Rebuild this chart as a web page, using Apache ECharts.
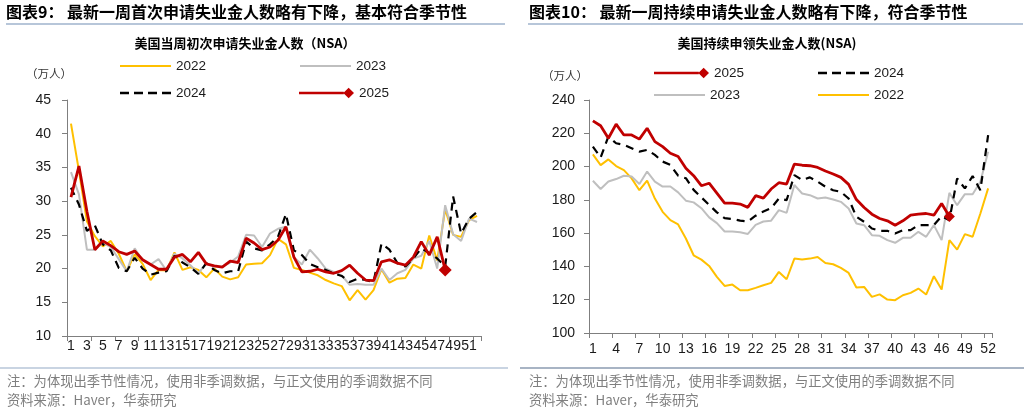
<!DOCTYPE html>
<html>
<head>
<meta charset="utf-8">
<script src="https://cdn.jsdelivr.net/npm/echarts@6.0.0/dist/echarts.min.js"></script>
<style>
  body { margin: 0; background: #fff; }
  #main { width: 1029px; height: 413px; }
</style>
</head>
<body>
<div id="main"></div>
<script>
// week labels 1..52
var weeks = ['1','2','3','4','5','6','7','8','9','10','11','12','13','14','15','16','17','18','19','20',
  '21','22','23','24','25','26','27','28','29','30','31','32','33','34','35','36','37','38','39','40',
  '41','42','43','44','45','46','47','48','49','50','51','52'];

// 初次申请 (万人)
var initial2022 = [41.5, 34.5, 27.0, 24.8, 23.3, 24.1, 22.2, 19.6, 22.1, 20.7, 18.3, 19.8, 19.7, 22.4, 19.8, 20.2, 19.8, 18.7, 20.0, 18.8,
  18.4, 18.7, 20.6, 20.7, 20.8, 22.0, 24.4, 23.6, 20.1, 19.8, 19.4, 19.0, 18.3, 17.8, 17.4, 15.3, 16.8, 15.4, 16.8, 19.9,
  17.9, 18.5, 18.6, 20.6, 20.0, 24.9, 21.2, 28.8, 25.0, 24.7, 27.2, 27.8];
var initial2023 = [34.3, 31.0, 22.8, 22.8, 23.8, 23.2, 21.4, 19.6, 23.0, 21.2, 20.6, 21.4, 19.7, 22.2, 21.5, 20.5, 19.3, 20.8, 20.3, 20.3,
  20.9, 21.8, 25.0, 24.9, 23.2, 25.2, 25.9, 26.2, 21.7, 20.6, 22.8, 21.5, 20.0, 19.5, 19.0, 17.6, 17.7, 17.6, 17.6, 20.0,
  18.3, 19.3, 19.8, 21.5, 21.9, 24.1, 20.0, 29.4, 25.1, 24.1, 27.4, 26.9];
var initial2024 = [32.0, 29.5, 25.6, 26.4, 23.6, 22.7, 20.1, 19.6, 21.6, 20.0, 19.1, 19.4, 19.6, 21.9, 20.9, 20.2, 19.2, 20.8, 19.8, 19.3,
  19.6, 19.6, 24.0, 23.0, 22.7, 23.6, 24.7, 28.1, 22.7, 22.0, 20.7, 20.2, 19.8, 19.3, 18.9, 18.0, 18.5, 18.3, 18.0, 23.7,
  22.8, 20.8, 20.3, 21.5, 23.0, 22.3, 21.5, 20.3, 30.7, 25.2, 27.4, 28.4];
var initial2025 = [30.6, 35.2, 28.5, 22.8, 24.1, 23.4, 22.5, 22.1, 22.6, 21.3, 20.6, 19.9, 19.9, 21.7, 22.1, 21.0, 22.4, 20.7, 20.4, 20.2,
  21.1, 20.9, 24.5, 23.8, 22.8, 23.2, 24.2, 26.2, 21.7, 19.5, 19.6, 19.9, 19.5, 19.3, 19.7, 20.5, 19.3, 18.3, 18.2, 21.0,
  21.3, 20.8, 20.5, 21.7, 24.0, 22.0, 24.7, 19.8];

// 持续申领 (万人)
var cont2022 = [207.3, 200.9, 204.3, 200.3, 197.9, 192.9, 185.8, 191.5, 180.8, 172.8, 167.8, 165.2, 156.8, 146.7, 144.1, 140.3, 133.7, 128.3, 129.1, 125.7,
  125.7, 127.1, 128.7, 130.1, 136.7, 132.3, 144.7, 144.1, 144.7, 145.7, 142.1, 141.3, 139.1, 136.1, 127.3, 127.7, 121.7, 123.2, 120.1, 119.7,
  122.7, 124.1, 126.7, 123.1, 134.1, 126.1, 155.8, 150.1, 159.4, 157.8, 171.8, 186.9];
var cont2023 = [191.5, 186.5, 191, 192.5, 194.5, 194, 189.5, 197, 191, 188, 188, 184.5, 179.5, 178.5, 175, 169.5, 166, 161, 161, 160.5,
  159.5, 165, 167, 167.5, 173.8, 172.2, 188.9, 183.8, 182.8, 180.8, 181.4, 180.2, 178.8, 174.8, 165.8, 164.8, 158.8, 158.4, 155.8, 154.2,
  157.2, 157.2, 160.8, 157.8, 164.8, 155.8, 184.2, 176.8, 183.4, 183.4, 190.9, 208.9];
var cont2024 = [212, 205.5, 218, 214, 213, 211, 209, 210, 207, 203, 201, 194.5, 193, 186, 181.5, 177, 172.5, 169, 168.5, 167.5,
  167, 170.5, 173, 175, 180.8, 179.8, 194.9, 191.9, 193.5, 190.9, 187.9, 185.8, 184.8, 180.8, 169.8, 166.8, 162.8, 161.4, 161.4, 159.8,
  161.8, 161.8, 164.8, 164.8, 164.8, 170.2, 167.8, 192.9, 186.9, 194.3, 185.8, 218.9];
var cont2025 = [227.5, 224.5, 217, 225.5, 219, 219, 216.5, 223, 215, 212, 208, 206, 199, 194.5, 188.5, 190, 184, 178, 178, 177.5,
  175.5, 182.5, 181, 186.5, 190.3, 189.5, 201.5, 200.8, 200.5, 199.5, 197.3, 195.5, 193.5, 189.3, 180.2, 175.4, 171.4, 168.8, 167.4, 164.8,
  167.4, 170.8, 171.4, 171.8, 170.8, 177.8, 170.0];

var C2022 = '#FFC000', C2023 = '#BFBFBF', C2024 = '#000000', C2025 = '#C00000';
var NUM = 'Liberation Sans, Arial, sans-serif';
var CJK = '"Noto Sans CJK SC", sans-serif';

// legend icons drawn like the original: plain bar, dashes, bar ending in a diamond
var solidIcon = 'path://M0,0 L51,0 L51,2.2 L0,2.2 Z';
var dashIcon = 'path://M0,0 L9,0 L9,2.4 L0,2.4 Z M14,0 L23,0 L23,2.4 L14,2.4 Z M28,0 L37,0 L37,2.4 L28,2.4 Z M42,0 L51,0 L51,2.4 L42,2.4 Z';
var diamondIcon = 'path://M0,4.6 L46,4.6 L46,7.4 L0,7.4 Z M51,0.5 L56.5,6 L51,11.5 L45.5,6 Z';

function withLastDiamond(values, size) {
  return values.map(function (v, i) {
    return i === values.length - 1 ? { value: v, symbol: 'diamond', symbolSize: size } : v;
  });
}

function mkSeries(name, values, color, width, dashed, idx) {
  return {
    type: 'line', name: name, xAxisIndex: idx, yAxisIndex: idx,
    data: values, symbol: 'none', showAllSymbol: true, silent: true,
    lineStyle: { color: color, width: width, type: dashed ? [8, 6] : 'solid' },
    itemStyle: { color: color }
  };
}

function mkLegend(name, left, top, icon, w, h) {
  return {
    data: [{ name: name, icon: icon }],
    left: left, top: top, padding: 0, itemWidth: w || 51, itemHeight: h || 10, itemGap: 0,
    selectedMode: false,
    itemStyle: { borderWidth: 0 },
    textStyle: { fontFamily: NUM, fontSize: 13.5, color: '#1a1a1a' }
  };
}

function xAxisCfg(idx, labelInterval, margin) {
  return {
    type: 'category', gridIndex: idx, data: weeks, boundaryGap: true,
    axisLine: { lineStyle: { color: '#7F7F7F', width: 1 } },
    axisTick: { show: true, interval: 2, length: 5, lineStyle: { color: '#7F7F7F' } },
    axisLabel: { interval: labelInterval, margin: margin, color: '#1a1a1a', fontFamily: NUM, fontSize: 14, hideOverlap: false },
    splitLine: { show: false }
  };
}

function yAxisCfg(idx, min, max, interval, margin) {
  return {
    type: 'value', gridIndex: idx, min: min, max: max, interval: interval,
    axisLine: { show: true, lineStyle: { color: '#7F7F7F', width: 1 } },
    axisTick: { show: true, length: 5, lineStyle: { color: '#7F7F7F' } },
    axisLabel: { margin: margin, color: '#1a1a1a', fontFamily: NUM, fontSize: 14 },
    splitLine: { show: false }
  };
}

var chart = echarts.init(document.getElementById('main'));

var option = {
  animation: false,
  backgroundColor: '#fff',
  grid: [
    { left: 67, top: 100, width: 414, height: 236 },
    { left: 589, top: 100, width: 403, height: 233 }
  ],
  xAxis: [xAxisCfg(0, 1, 3), xAxisCfg(1, 2, 9)],
  yAxis: [yAxisCfg(0, 10, 45, 5, 16), yAxisCfg(1, 100, 240, 20, 14)],
  legend: [
    mkLegend('2022', 120, 59, solidIcon),
    mkLegend('2023', 300, 59, solidIcon),
    mkLegend('2024', 120, 86, dashIcon),
    mkLegend('2025', 299, 86, diamondIcon, 55, 11),
    mkLegend('2025', 654, 66, diamondIcon, 55, 11),
    mkLegend('2024', 818, 66, dashIcon),
    mkLegend('2023', 654, 88, solidIcon),
    mkLegend('2022', 818, 88, solidIcon)
  ],
  series: [
    mkSeries('2022', initial2022, C2022, 2, false, 0),
    mkSeries('2023', initial2023, C2023, 2, false, 0),
    mkSeries('2024', initial2024, C2024, 2.2, true, 0),
    mkSeries('2025', withLastDiamond(initial2025, 13), C2025, 2.8, false, 0),
    mkSeries('2022', cont2022, C2022, 2, false, 1),
    mkSeries('2023', cont2023, C2023, 2, false, 1),
    mkSeries('2024', cont2024, C2024, 2.2, true, 1),
    mkSeries('2025', withLastDiamond(cont2025, 11), C2025, 2.8, false, 1)
  ],
  graphic: [
    { type: 'text', left: 6, top: 4, style: { text: '图表9： 最新一周首次申请失业金人数略有下降，基本符合季节性', font: 'bold 16px ' + CJK, fill: '#000' } },
    { type: 'line', shape: { x1: 6, y1: 24, x2: 505, y2: 24 }, style: { stroke: '#9FB3CC', lineWidth: 1.5 } },
    { type: 'text', left: 529, top: 4, style: { text: '图表10： 最新一周持续申请失业金人数略有下降，符合季节性', font: 'bold 16px ' + CJK, fill: '#000' } },
    { type: 'line', shape: { x1: 528, y1: 24, x2: 1023, y2: 24 }, style: { stroke: '#9FB3CC', lineWidth: 1.5 } },

    { type: 'text', x: 245, y: 43, style: { text: '美国当周初次申请失业金人数（NSA）', font: 'bold 13px ' + CJK, fill: '#000', align: 'center', verticalAlign: 'middle' } },
    { type: 'text', x: 767, y: 43, style: { text: '美国持续申领失业金人数(NSA)', font: 'bold 13px ' + CJK, fill: '#000', align: 'center', verticalAlign: 'middle' } },

    { type: 'text', x: 26, y: 74, style: { text: '（万人）', font: '11.5px ' + CJK, fill: '#333', verticalAlign: 'middle' } },
    { type: 'text', x: 542, y: 76, style: { text: '（万人）', font: '11.5px ' + CJK, fill: '#333', verticalAlign: 'middle' } },

    { type: 'line', shape: { x1: 0, y1: 368, x2: 508, y2: 368 }, style: { stroke: '#C9D4E2', lineWidth: 2 } },
    { type: 'line', shape: { x1: 520, y1: 368, x2: 1024, y2: 368 }, style: { stroke: '#A8B4C4', lineWidth: 2 } },
    { type: 'text', x: 7, y: 381, style: { text: '注：为体现出季节性情况，使用非季调数据，与正文使用的季调数据不同', font: '13.3px ' + CJK, fill: '#7F7F7F', verticalAlign: 'middle' } },
    { type: 'text', x: 7, y: 400, style: { text: '资料来源：Haver，华泰研究', font: '13.3px ' + CJK, fill: '#7F7F7F', verticalAlign: 'middle' } },
    { type: 'text', x: 529, y: 381, style: { text: '注：为体现出季节性情况，使用非季调数据，与正文使用的季调数据不同', font: '13.3px ' + CJK, fill: '#7F7F7F', verticalAlign: 'middle' } },
    { type: 'text', x: 529, y: 400, style: { text: '资料来源：Haver，华泰研究', font: '13.3px ' + CJK, fill: '#7F7F7F', verticalAlign: 'middle' } }
  ]
};

chart.setOption(option);
</script>
</body>
</html>
